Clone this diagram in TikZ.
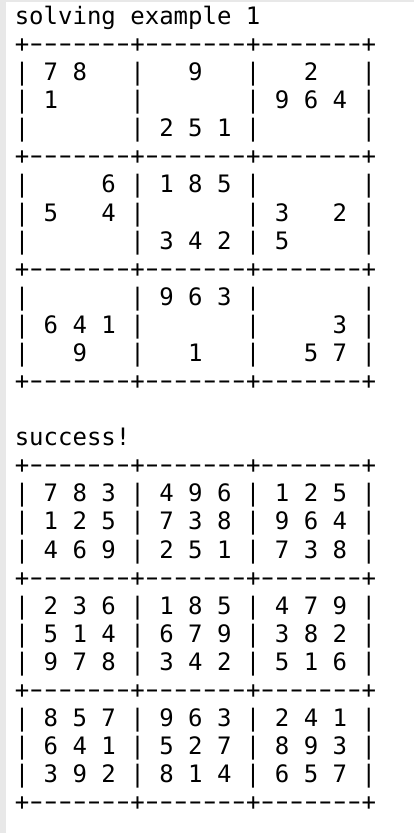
\documentclass[tikz,border=0pt]{standalone}
\usepackage{fontspec}
\usepackage{graphicx}
\setmonofont{DejaVu Sans Mono}
\newcommand\srow[9]{|~#1~#2~#3~|~#4~#5~#6~|~#7~#8~#9~|}
\newcommand\dsh{\makebox[0.6021em][c]{\scalebox{0.8}[1]{−}}}
\newcommand\dseven{\dsh\dsh\dsh\dsh\dsh\dsh\dsh}
\newcommand\sepline{+\dseven+\dseven+\dseven+}
\begin{document}
\begin{tikzpicture}[x=1bp,y=-1bp,
  txt/.style={anchor=base west, inner sep=0pt, outer sep=0pt,
    font=\ttfamily\fontsize{24bp}{28bp}\selectfont, text=black}]
\useasboundingbox (0,0) rectangle (414,833);
\fill[white] (0,0) rectangle (414,833);
\fill[black!9] (0,0) rectangle (6,833);
\fill[black!9] (0,0) rectangle (414,2);
\def\lx{14.8}
% puzzle
\node[txt] (t0) at (\lx,24.5) {solving~example~1};
\node[txt] (l1) at (\lx,52.58) {\sepline};
\node[txt] (l2) at (\lx,80.66) {\srow{7}{8}{~}{~}{9}{~}{~}{2}{~}};
\node[txt] (l3) at (\lx,108.74) {\srow{1}{~}{~}{~}{~}{~}{9}{6}{4}};
\node[txt] (l4) at (\lx,136.82) {\srow{~}{~}{~}{2}{5}{1}{~}{~}{~}};
\node[txt] (l5) at (\lx,164.9) {\sepline};
\node[txt] (l6) at (\lx,192.98) {\srow{~}{~}{6}{1}{8}{5}{~}{~}{~}};
\node[txt] (l7) at (\lx,221.06) {\srow{5}{~}{4}{~}{~}{~}{3}{~}{2}};
\node[txt] (l8) at (\lx,249.14) {\srow{~}{~}{~}{3}{4}{2}{5}{~}{~}};
\node[txt] (l9) at (\lx,277.22) {\sepline};
\node[txt] (l10) at (\lx,305.3) {\srow{~}{~}{~}{9}{6}{3}{~}{~}{~}};
\node[txt] (l11) at (\lx,333.38) {\srow{6}{4}{1}{~}{~}{~}{~}{~}{3}};
\node[txt] (l12) at (\lx,361.46) {\srow{~}{9}{~}{~}{1}{~}{~}{5}{7}};
\node[txt] (l13) at (\lx,389.54) {\sepline};
% solution
\node[txt] (t15) at (\lx,445.7) {success!};
\node[txt] (l16) at (\lx,473.78) {\sepline};
\node[txt] (l17) at (\lx,501.86) {\srow{7}{8}{3}{4}{9}{6}{1}{2}{5}};
\node[txt] (l18) at (\lx,529.94) {\srow{1}{2}{5}{7}{3}{8}{9}{6}{4}};
\node[txt] (l19) at (\lx,558.02) {\srow{4}{6}{9}{2}{5}{1}{7}{3}{8}};
\node[txt] (l20) at (\lx,586.1) {\sepline};
\node[txt] (l21) at (\lx,614.18) {\srow{2}{3}{6}{1}{8}{5}{4}{7}{9}};
\node[txt] (l22) at (\lx,642.26) {\srow{5}{1}{4}{6}{7}{9}{3}{8}{2}};
\node[txt] (l23) at (\lx,670.34) {\srow{9}{7}{8}{3}{4}{2}{5}{1}{6}};
\node[txt] (l24) at (\lx,698.42) {\sepline};
\node[txt] (l25) at (\lx,726.5) {\srow{8}{5}{7}{9}{6}{3}{2}{4}{1}};
\node[txt] (l26) at (\lx,754.58) {\srow{6}{4}{1}{5}{2}{7}{8}{9}{3}};
\node[txt] (l27) at (\lx,782.66) {\srow{3}{9}{2}{8}{1}{4}{6}{5}{7}};
\node[txt] (l28) at (\lx,810.74) {\sepline};
\end{tikzpicture}
\end{document}
